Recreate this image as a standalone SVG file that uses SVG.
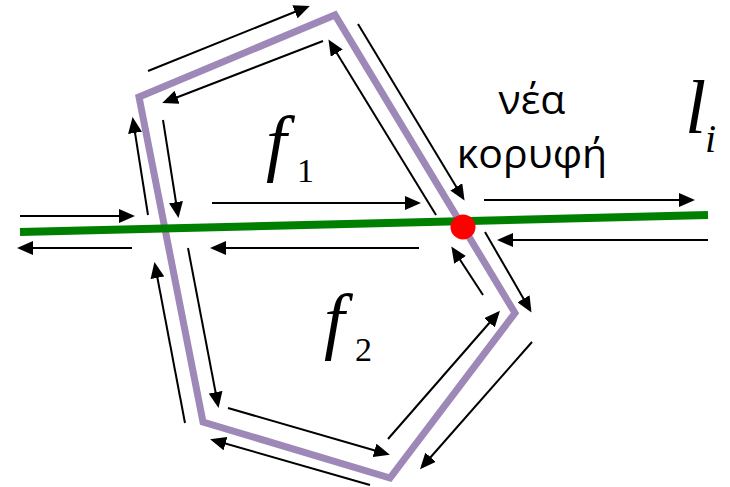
<svg xmlns="http://www.w3.org/2000/svg" width="730" height="487" viewBox="0 0 730 487">
<defs>
<marker id="ah" markerUnits="userSpaceOnUse" markerWidth="16" markerHeight="14" refX="13" refY="7" orient="auto">
<path d="M0,0 L16,7 L0,14 Z" fill="#000"/>
</marker>
<style>
.arr{stroke:#000;stroke-width:2;fill:none;marker-end:url(#ah)}
.math{font-family:"Liberation Serif","Times New Roman",serif;font-style:italic;fill:#000}
.sub{font-family:"Liberation Serif","Times New Roman",serif;fill:#000}
.gr{font-family:"Open Sans","DejaVu Sans",sans-serif;font-size:41px;fill:#000;text-anchor:middle}
</style>
</defs>
<rect width="730" height="487" fill="#fff"/>
<g id="faces-boundary">
<polygon points="139,97 335,15 515,313 390,478 203,422" fill="none" stroke="#9e88b8" stroke-width="7" stroke-linejoin="miter"/>
</g>
<g id="line-li">
<line x1="20" y1="232" x2="708" y2="215" stroke="#008000" stroke-width="8"/>
</g>
<g id="new-vertex">
<circle cx="463" cy="227" r="12.5" fill="#ff0000"/>
</g>
<g id="connectors">
<line class="arr" x1="148" y1="71" x2="307" y2="7"/>
<line class="arr" x1="323" y1="41" x2="165" y2="102"/>
<line class="arr" x1="436" y1="215" x2="330" y2="42"/>
<line class="arr" x1="358" y1="24" x2="463" y2="198"/>
<line class="arr" x1="485" y1="232" x2="530" y2="310"/>
<line class="arr" x1="483" y1="295" x2="453" y2="249"/>
<line class="arr" x1="388" y1="439" x2="498" y2="313"/>
<line class="arr" x1="532" y1="342" x2="422" y2="467"/>
<line class="arr" x1="228" y1="408" x2="387" y2="454"/>
<line class="arr" x1="370" y1="485" x2="213" y2="440"/>
<line class="arr" x1="188" y1="248" x2="218" y2="405"/>
<line class="arr" x1="185" y1="423" x2="155" y2="265"/>
<line class="arr" x1="148" y1="215" x2="133" y2="120"/>
<line class="arr" x1="163" y1="120" x2="178" y2="215"/>
<line class="arr" x1="20" y1="216" x2="132" y2="216"/>
<line class="arr" x1="132" y1="248" x2="20" y2="248"/>
<line class="arr" x1="212" y1="203" x2="418" y2="203"/>
<line class="arr" x1="419" y1="248" x2="213" y2="248"/>
<line class="arr" x1="484" y1="200" x2="692" y2="200"/>
<line class="arr" x1="708" y1="240" x2="500" y2="240"/>
</g>
<g id="label-f1">
<text class="math" x="266" y="167" font-size="74">f</text>
<text class="sub" x="297" y="182" font-size="34">1</text>
</g>
<g id="label-f2">
<text class="math" x="324" y="345" font-size="74">f</text>
<text class="sub" x="355" y="361" font-size="34">2</text>
</g>
<g id="label-li">
<text class="math" x="685" y="133" font-size="76">l</text>
<text class="math" x="705" y="152" font-size="40">i</text>
</g>
<g id="label-new-vertex">
<text class="gr" x="532" y="114">νέα</text>
<text class="gr" x="532" y="168">κορυφή</text>
</g>
</svg>
